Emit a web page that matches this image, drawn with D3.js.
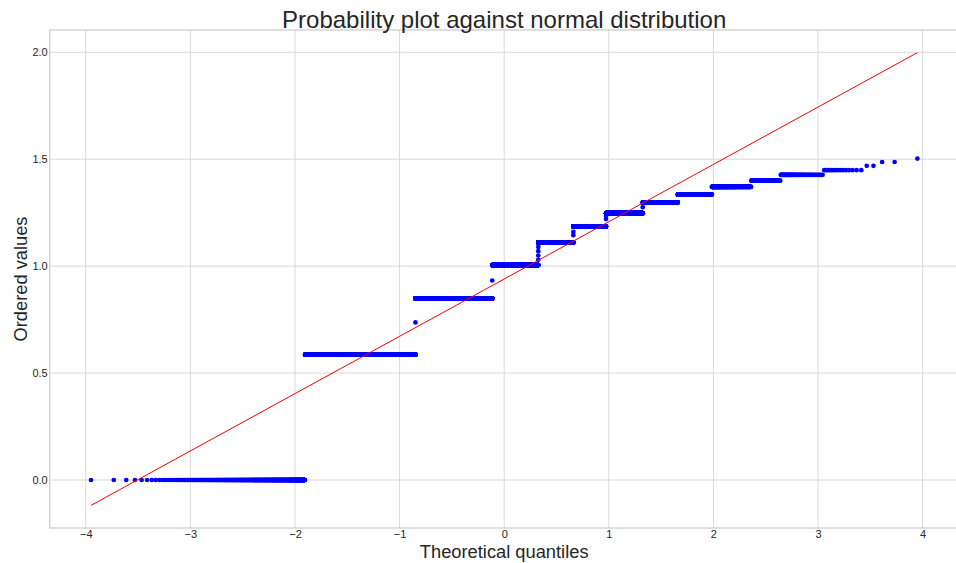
<!DOCTYPE html>
<html>
<head>
<meta charset="utf-8">
<script src="https://cdn.jsdelivr.net/npm/d3@7"></script>
<style>
  html, body { margin: 0; padding: 0; background: #fff; }
  svg { display: block; font-family: "Liberation Sans", Arial, sans-serif; }
</style>
</head>
<body>
<svg id="chart" width="956" height="563"></svg>
<script>
// ---- Data ----
// Distinct ordered values (sorted) and how many observations take each value
const levels = [0, 0.586, 0.737, 0.849, 0.933, 1.005, 1.03, 1.05, 1.07, 1.09,
                1.111, 1.145, 1.16, 1.186, 1.22, 1.235, 1.248, 1.276, 1.298,
                1.335, 1.371, 1.400, 1.427, 1.449, 1.469, 1.487, 1.503];
const counts = [503, 3005, 1, 4538, 1, 3066, 1, 1, 1, 1,
                2087, 1, 1, 1575, 1, 1, 1283, 1, 781,
                443, 256, 88, 53, 15, 2, 2, 1];
// Fitted line (least squares of ordered values on theoretical quantiles)
const fitSlope = 0.268;
const fitIntercept = 0.94;
const xTicks = [-4, -3, -2, -1, 0, 1, 2, 3, 4];
const yTicks = [0.0, 0.5, 1.0, 1.5, 2.0];
const titleText = "Probability plot against normal distribution";
const xLabelText = "Theoretical quantiles";
const yLabelText = "Ordered values";

// ---- Theoretical quantiles (Filliben order statistic medians) ----
function normPpf(p) {
  const a = [-3.969683028665376e+01, 2.209460984245205e+02, -2.759285104469687e+02,
             1.383577518672690e+02, -3.066479806614716e+01, 2.506628277459239e+00];
  const b = [-5.447609879822406e+01, 1.615858368580409e+02, -1.556989798598866e+02,
             6.680131188771972e+01, -1.328068155288572e+01];
  const c = [-7.784894002430293e-03, -3.223964580411365e-01, -2.400758277161838e+00,
             -2.549732539343734e+00, 4.374664141464968e+00, 2.938163982698783e+00];
  const d = [7.784695709041462e-03, 3.224671290700398e-01, 2.445134137142996e+00,
             3.754408661907416e+00];
  const pl = 0.02425, ph = 1 - pl;
  let q, r;
  if (p < pl) {
    q = Math.sqrt(-2 * Math.log(p));
    return (((((c[0]*q+c[1])*q+c[2])*q+c[3])*q+c[4])*q+c[5]) /
           ((((d[0]*q+d[1])*q+d[2])*q+d[3])*q+1);
  } else if (p <= ph) {
    q = p - 0.5; r = q * q;
    return (((((a[0]*r+a[1])*r+a[2])*r+a[3])*r+a[4])*r+a[5])*q /
           (((((b[0]*r+b[1])*r+b[2])*r+b[3])*r+b[4])*r+1);
  } else {
    q = Math.sqrt(-2 * Math.log(1 - p));
    return -(((((c[0]*q+c[1])*q+c[2])*q+c[3])*q+c[4])*q+c[5]) /
            ((((d[0]*q+d[1])*q+d[2])*q+d[3])*q+1);
  }
}

const ordered = [];
levels.forEach((v, i) => { for (let k = 0; k < counts[i]; k++) ordered.push(v); });
const nObs = ordered.length;
const points = ordered.map((v, i) => {
  let m;
  if (i === nObs - 1) m = Math.pow(0.5, 1 / nObs);
  else if (i === 0) m = 1 - Math.pow(0.5, 1 / nObs);
  else m = (i + 1 - 0.3175) / (nObs + 0.365);
  return { x: normPpf(m), y: v };
});

// ---- Layout ----
const svg = d3.select("#chart");
const plotLeft = 49.7, plotRight = 958.7, plotTop = 30, plotBottom = 528;
const xExt = d3.extent(points, d => d.x);
const lineY = xExt.map(v => fitSlope * v + fitIntercept);
const xPad = (xExt[1] - xExt[0]) * 0.05;
const yMin = Math.min(lineY[0], d3.min(levels)), yMax = Math.max(lineY[1], d3.max(levels));
const yPad = (yMax - yMin) * 0.05;
const x = d3.scaleLinear().domain([xExt[0] - xPad, xExt[1] + xPad]).range([plotLeft, plotRight]);
const y = d3.scaleLinear().domain([yMin - yPad, yMax + yPad]).range([plotBottom, plotTop]);

const gridColor = "#dadada";
// grid
svg.append("g").selectAll("line").data(xTicks).join("line")
  .attr("x1", d => x(d)).attr("x2", d => x(d)).attr("y1", plotTop).attr("y2", plotBottom)
  .attr("stroke", gridColor).attr("stroke-width", 1);
svg.append("g").selectAll("line").data(yTicks).join("line")
  .attr("x1", plotLeft).attr("x2", plotRight).attr("y1", d => y(d)).attr("y2", d => y(d))
  .attr("stroke", gridColor).attr("stroke-width", 1);

// spines
svg.append("rect").attr("x", plotLeft).attr("y", plotTop)
  .attr("width", plotRight - plotLeft).attr("height", plotBottom - plotTop)
  .attr("fill", "none").attr("stroke", "#cccccc").attr("stroke-width", 1.25);

// axes (labels only, no tick marks)
const fmtX = d3.format("d");
const fmtY = d3.format(".1f");
const gx = svg.append("g").attr("transform", `translate(0,${plotBottom})`)
  .call(d3.axisBottom(x).tickValues(xTicks).tickFormat(fmtX).tickSize(0).tickPadding(2));
const gy = svg.append("g").attr("transform", `translate(${plotLeft},0)`)
  .call(d3.axisLeft(y).tickValues(yTicks).tickFormat(fmtY).tickSize(0).tickPadding(2));
[gx, gy].forEach(g => {
  g.select(".domain").remove();
  g.selectAll("text").attr("fill", "#262626")
    .style("font-size", "11px").style("font-family", "'Liberation Sans', Arial, sans-serif");
});

// points
svg.append("g").selectAll("circle").data(points).join("circle")
  .attr("cx", d => x(d.x)).attr("cy", d => y(d.y)).attr("r", 2.35)
  .attr("fill", "#0000ff");

// fitted line
svg.append("line")
  .attr("x1", x(xExt[0])).attr("y1", y(lineY[0]))
  .attr("x2", x(xExt[1])).attr("y2", y(lineY[1]))
  .attr("stroke", "#ff0000").attr("stroke-width", 1);

// title and axis labels
const midX = (plotLeft + plotRight) / 2;
svg.append("text").attr("x", midX).attr("y", 27.5).attr("text-anchor", "middle")
  .attr("fill", "#262626").style("font-size", "24px").text(titleText);
svg.append("text").attr("x", midX).attr("y", 557.5).attr("text-anchor", "middle")
  .attr("fill", "#262626").style("font-size", "18.3px").text(xLabelText);
svg.append("text").attr("transform", `translate(27,${(plotTop + plotBottom) / 2}) rotate(-90)`)
  .attr("text-anchor", "middle").attr("fill", "#262626")
  .style("font-size", "18.3px").text(yLabelText);
</script>
</body>
</html>
